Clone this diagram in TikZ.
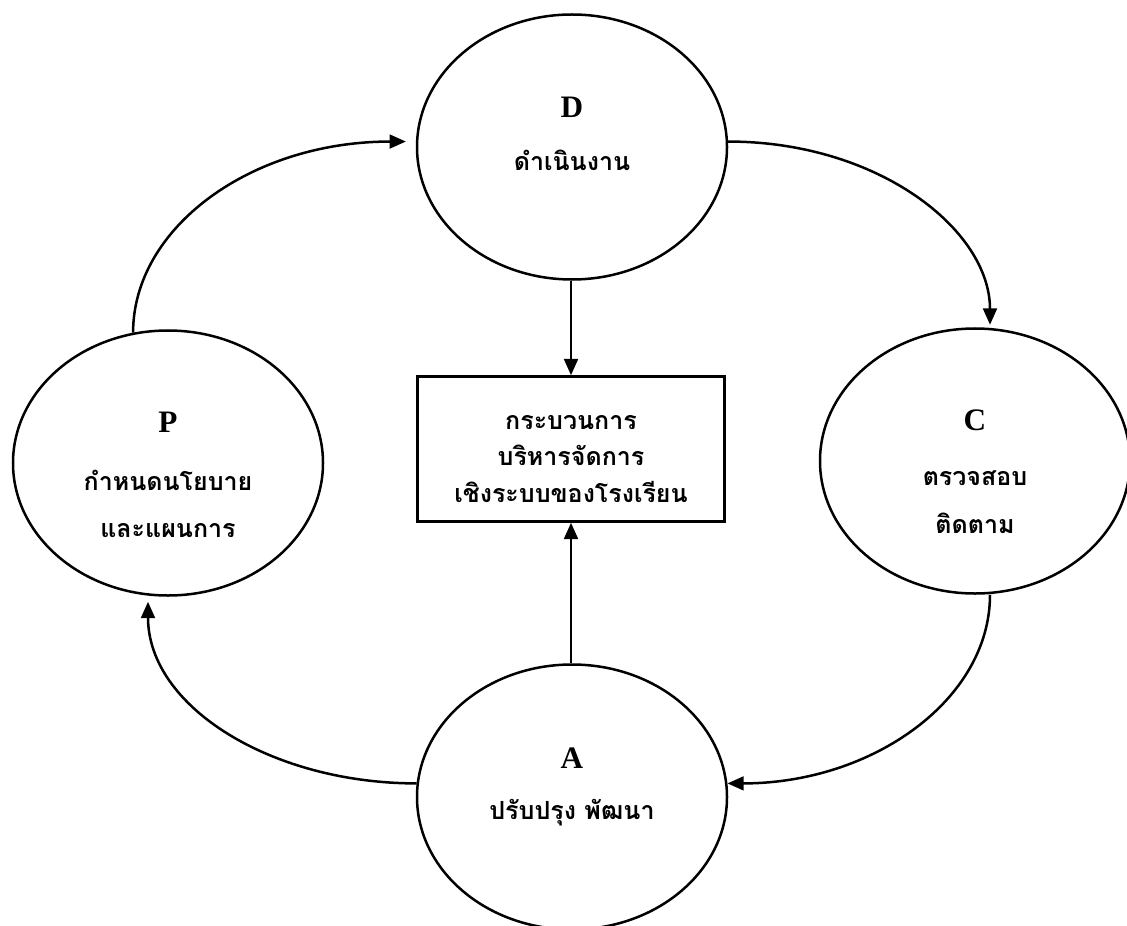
\documentclass[tikz,border=0pt]{standalone}
\usepackage{fontspec}
\setmainfont{Liberation Serif}
\newfontfamily\thaifont[Script=Thai]{Loma}
\usetikzlibrary{arrows.meta,shapes.geometric}

\begin{document}
\begin{tikzpicture}[x=0.4pt,y=-0.4pt,>={Triangle[length=6.5pt,width=5.5pt]},line width=1pt,
  phase/.style={draw,ellipse,minimum width=124pt,minimum height=106pt,inner sep=0pt},
  letter/.style={font=\fontsize{12.5}{14}\selectfont\bfseries},
  thai/.style={font=\fontsize{10}{19}\selectfont\thaifont\bfseries,align=center},
  core/.style={draw,minimum width=122.8pt,minimum height=58pt,inner sep=0pt}]
\useasboundingbox (0,0) rectangle (1127,926);
% the four phases
\node[phase] (P) at (168,463) {};
\node[phase] (D) at (572,147) {};
\node[phase] (C) at (975,461) {};
\node[phase] (A) at (572,797) {};
\node[letter] (Pl) at (168,422) {P};
\node[thai]   (Pt) at (168,504) {กำหนดนโยบาย\\และแผนการ};
\node[letter] (Dl) at (572,107) {D};
\node[thai]   (Dt) at (572,160) {ดำเนินงาน};
\node[letter] (Cl) at (975,420) {C};
\node[thai]   (Ct) at (975,502) {ตรวจสอบ\\ติดตาม};
\node[letter] (Al) at (572,758) {A};
\node[thai]   (At) at (572,813) {ปรับปรุง พัฒนา};
% centre box
\node[core] (S) at (571,449) {};
\node[thai,font=\fontsize{10}{14.6}\selectfont\thaifont\bfseries] (St) at (571,459) {กระบวนการ\\บริหารจัดการ\\เชิงระบบของโรงเรียน};
% cycle
\draw[->] (P.105) .. controls +(0,-105) and +(-155,0) .. ([xshift=-4pt]D.178);
\draw[->] (D.2) .. controls +(150,0) and +(0,-95) .. ([xshift=6pt,yshift=1pt]C.north);
\draw[->] ([xshift=6pt]C.south) .. controls +(0,105) and +(145,0) .. (A.5);
\draw[->] (A.175) .. controls +(-145,0) and +(0,105) .. ([xshift=-8pt,yshift=-2pt]P.south);
\draw[->] (D.south -| S.north) -- (S.north);
\draw[->] (A.north -| S.south) -- (S.south);
\end{tikzpicture}
\end{document}
